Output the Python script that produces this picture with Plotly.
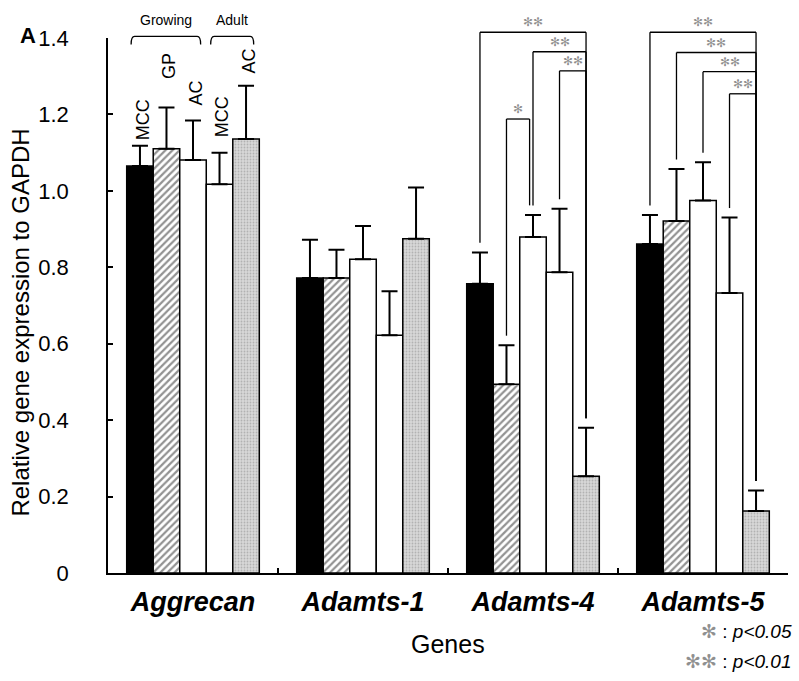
import plotly.graph_objects as go

# ---------------- data ----------------
genes = ["Aggrecan", "Adamts-1", "Adamts-4", "Adamts-5"]
series_names = ["Growing MCC", "Growing GP", "Growing AC", "Adult MCC", "Adult AC"]
bar_labels = ["MCC", "GP", "AC", "MCC", "AC"]

growing_mcc = [1.065, 0.772, 0.757, 0.861]
growing_gp = [1.110, 0.772, 0.494, 0.921]
growing_ac = [1.081, 0.821, 0.879, 0.975]
adult_mcc = [1.017, 0.622, 0.787, 0.733]
adult_ac = [1.136, 0.875, 0.253, 0.162]

err_growing_mcc = [0.053, 0.100, 0.082, 0.076]
err_growing_gp = [0.108, 0.074, 0.102, 0.136]
err_growing_ac = [0.103, 0.087, 0.058, 0.100]
err_adult_mcc = [0.083, 0.115, 0.166, 0.197]
err_adult_ac = [0.139, 0.134, 0.127, 0.054]

means = [growing_mcc, growing_gp, growing_ac, adult_mcc, adult_ac]
errs = [err_growing_mcc, err_growing_gp, err_growing_ac, err_adult_mcc, err_adult_ac]

y_tickvals = [0, 0.2, 0.4, 0.6, 0.8, 1.0, 1.2, 1.4]
y_ticktext = ["0", "0.2", "0.4", "0.6", "0.8", "1.0", "1.2", "1.4"]

# significance brackets: (gene index, bar a, bar b, bracket level, label)
sig_brackets = [
    (2, 0, 4, 1.415, "✻✻"),
    (2, 2, 4, 1.364, "✻✻"),
    (2, 3, 4, 1.314, "✻✻"),
    (2, 1, 2, 1.188, "✻"),
    (3, 0, 4, 1.415, "✻✻"),
    (3, 1, 4, 1.362, "✻✻"),
    (3, 2, 4, 1.312, "✻✻"),
    (3, 3, 4, 1.254, "✻✻"),
]
# label heights of the rotated bar names above the Aggrecan bars
bar_label_y = [1.186, 1.327, 1.256, 1.193, 1.340]
# age-group brackets: (text, first bar, last bar)
age_groups = [("Growing", 0, 2), ("Adult", 3, 4)]

# ---------------- style ----------------
YMAX = 1.4
FONT = "Liberation Sans, Arial, sans-serif"
STAR_COLOR = "#909090"
BAR_W = 0.78 / 5

patterns = [
    dict(color="black", pattern=None),
    dict(color="white", pattern=dict(shape="/", fgcolor="#262626", bgcolor="white", size=5, solidity=0.45)),
    dict(color="white", pattern=None),
    dict(color="white", pattern=None),
    dict(color="#d2d2d2", pattern=dict(shape=".", fgcolor="#8c8c8c", bgcolor="#d8d8d8", size=3, solidity=0.3)),
]

fig = go.Figure()
for i, name in enumerate(series_names):
    marker = dict(color=patterns[i]["color"], line=dict(color="black", width=1.5))
    if patterns[i]["pattern"] is not None:
        marker["pattern"] = patterns[i]["pattern"]
    fig.add_bar(
        x=genes, y=means[i], name=name, marker=marker,
        error_y=dict(type="data", array=errs[i], arrayminus=[0] * len(genes),
                     symmetric=False, color="black", thickness=2, width=8),
        showlegend=False,
    )


def bar_x(g, b):
    return g + (b - 2) * BAR_W


def yp(v):
    return v / YMAX


shapes = []
annotations = []

# significance brackets
for (g, a, b, lev, lab) in sig_brackets:
    xa = bar_x(g, a)
    xb = bar_x(g, b)
    if b - a == 1 and b == 2:
        xb -= 0.02
    ya = means[a][g] + errs[a][g] + 0.025
    yb = means[b][g] + errs[b][g] + 0.025
    line = dict(color="black", width=1.3)
    shapes.append(dict(type="line", xref="x", yref="paper", x0=xa, x1=xa, y0=yp(ya), y1=yp(lev), line=line))
    shapes.append(dict(type="line", xref="x", yref="paper", x0=xa, x1=xb, y0=yp(lev), y1=yp(lev), line=line))
    shapes.append(dict(type="line", xref="x", yref="paper", x0=xb, x1=xb, y0=yp(lev), y1=yp(yb), line=line))
    annotations.append(dict(xref="x", yref="paper", x=(xa + xb) / 2, y=yp(lev + 0.026),
                            text=lab, showarrow=False, xanchor="center", yanchor="middle",
                            font=dict(family="DejaVu Sans", size=12, color=STAR_COLOR)))

# age-group brackets on top of Aggrecan
for (txt, a, b) in age_groups:
    x0 = bar_x(0, a) - 0.052
    x1 = bar_x(0, b) + 0.045
    ytop = yp(1.404)
    ylow = yp(1.383)
    dx = 0.02
    path = (f"M {x0},{ylow} Q {x0},{ytop} {x0 + dx},{ytop} "
            f"L {x1 - dx},{ytop} Q {x1},{ytop} {x1},{ylow}")
    shapes.append(dict(type="path", xref="x", yref="paper", path=path,
                       line=dict(color="black", width=1.3)))
    annotations.append(dict(xref="x", yref="paper", x=(x0 + x1) / 2, y=yp(1.447),
                            text=txt, showarrow=False, xanchor="center", yanchor="middle",
                            font=dict(family=FONT, size=14, color="black")))

# rotated bar names above Aggrecan bars
for i, lab in enumerate(bar_labels):
    annotations.append(dict(xref="x", yref="paper", x=bar_x(0, i) + 0.015, y=yp(bar_label_y[i]),
                            text=lab, showarrow=False, textangle=-90,
                            xanchor="center", yanchor="middle",
                            font=dict(family=FONT, size=18, color="black")))

# panel letter, axis titles, legend text
annotations += [
    dict(xref="paper", yref="paper", x=-0.117, y=1.004, text="<b>A</b>", showarrow=False,
         xanchor="center", yanchor="middle", font=dict(family=FONT, size=22, color="black")),
    dict(xref="paper", yref="paper", x=-0.128, y=0.468, text="Relative gene expression to GAPDH",
         textangle=-90, showarrow=False, xanchor="center", yanchor="middle",
         font=dict(family=FONT, size=24, color="black")),
    dict(xref="paper", yref="paper", x=0.5, y=-0.1335, text="Genes", showarrow=False,
         xanchor="center", yanchor="middle", font=dict(family=FONT, size=25, color="black")),
    dict(xref="paper", yref="paper", x=1.009, y=-0.109,
         text=f"<span style='color:{STAR_COLOR}'>✻</span> : <i>p&lt;0.05</i>",
         showarrow=False, xanchor="right", yanchor="middle",
         font=dict(family=FONT, size=19, color="black")),
    dict(xref="paper", yref="paper", x=1.009, y=-0.165,
         text=f"<span style='color:{STAR_COLOR}'>✻✻</span> : <i>p&lt;0.01</i>",
         showarrow=False, xanchor="right", yanchor="middle",
         font=dict(family=FONT, size=19, color="black")),
]

fig.update_layout(
    width=799, height=681,
    margin=dict(l=108, r=11, t=38, b=108),
    paper_bgcolor="white", plot_bgcolor="white",
    barmode="group", bargap=0.22, bargroupgap=0,
    shapes=shapes, annotations=annotations,
    font=dict(family=FONT, color="black"),
)
fig.update_xaxes(
    type="category", range=[-0.5, 3.5], showgrid=False, zeroline=False,
    showline=True, linecolor="black", linewidth=1.5,
    ticks="inside", tickson="boundaries", ticklen=5, tickwidth=1.5, tickcolor="black",
    tickfont=dict(family=FONT, size=27, color="black", weight="bold", style="italic"),
    ticklabelstandoff=4,
)
fig.update_yaxes(
    range=[0, YMAX], showgrid=False, zeroline=False,
    showline=True, linecolor="black", linewidth=1.5,
    ticks="inside", ticklen=5, tickwidth=1.5, tickcolor="black",
    tickvals=y_tickvals, ticktext=y_ticktext,
    tickfont=dict(family=FONT, size=22, color="black"),
    ticklabelstandoff=33,
)

fig.write_html(
    "out.html",
    config={"displayModeBar": False},
    post_script="document.body.style.margin='0';document.body.style.overflow='hidden';",
)
